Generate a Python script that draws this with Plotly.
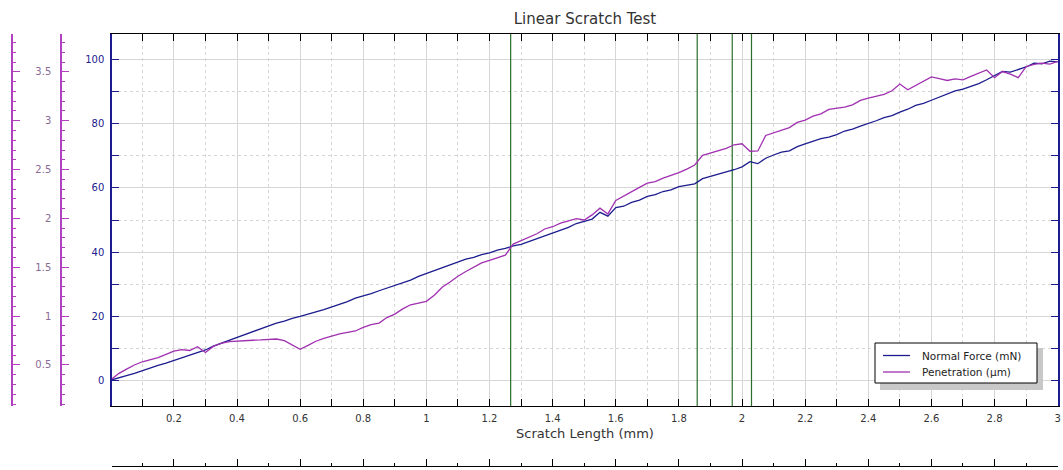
import plotly.graph_objects as go

# Scratch length sample positions (mm), one every 0.025 mm from 0 to 3
scratch_mm = [round(i * 0.025, 3) for i in range(121)]

normal_force_mN = [
    0.0, 0.6, 1.4, 2.1, 3.0, 3.7, 4.6, 5.3, 6.1, 7.0, 7.8, 8.7, 9.4, 10.6, 11.5, 12.4,
    13.4, 14.3, 15.1, 16.1, 16.9, 17.8, 18.4, 19.3, 19.9, 20.5, 21.3, 22.0, 22.8, 23.8,
    24.5, 25.6, 26.2, 27.0, 27.9, 28.7, 29.5, 30.5, 31.2, 32.4, 33.3, 34.2, 35.1, 36.1,
    36.8, 37.8, 38.3, 39.2, 39.7, 40.6, 41.1, 41.9, 42.4, 43.3, 44.1, 45.0, 46.0, 46.8,
    47.7, 48.9, 49.6, 50.3, 52.4, 51.2, 53.9, 54.3, 55.5, 56.2, 57.4, 57.9, 58.9, 59.4,
    60.4, 60.9, 61.3, 62.9, 63.6, 64.2, 65.0, 65.7, 66.6, 68.2, 67.6, 69.3, 70.3, 71.2,
    71.6, 72.9, 73.8, 74.6, 75.4, 75.9, 76.7, 77.8, 78.4, 79.3, 80.1, 81.0, 82.0, 82.6,
    83.7, 84.6, 85.8, 86.4, 87.4, 88.4, 89.2, 90.3, 90.9, 91.7, 92.6, 93.8, 95.2, 96.4,
    96.2, 96.9, 97.8, 99.0, 98.8, 99.6, 99.4,
]

penetration_um = [
    0.347, 0.412, 0.458, 0.500, 0.533, 0.553, 0.576, 0.608, 0.641, 0.658, 0.648, 0.687,
    0.628, 0.690, 0.720, 0.740, 0.746, 0.749, 0.753, 0.756, 0.759, 0.766, 0.749, 0.707,
    0.661, 0.700, 0.743, 0.772, 0.798, 0.818, 0.834, 0.848, 0.884, 0.913, 0.929, 0.985,
    1.021, 1.074, 1.116, 1.133, 1.152, 1.214, 1.296, 1.349, 1.408, 1.457, 1.503, 1.545,
    1.571, 1.598, 1.624, 1.738, 1.774, 1.814, 1.843, 1.892, 1.915, 1.951, 1.971, 1.997,
    1.984, 2.036, 2.105, 2.046, 2.184, 2.226, 2.275, 2.318, 2.361, 2.377, 2.413, 2.439,
    2.469, 2.505, 2.547, 2.646, 2.672, 2.695, 2.718, 2.754, 2.764, 2.688, 2.691, 2.849,
    2.878, 2.901, 2.930, 2.983, 3.006, 3.048, 3.071, 3.117, 3.127, 3.140, 3.163, 3.209,
    3.232, 3.248, 3.271, 3.307, 3.376, 3.317, 3.360, 3.405, 3.448, 3.432, 3.412, 3.428,
    3.419, 3.454, 3.484, 3.520, 3.441, 3.504, 3.477, 3.441, 3.553, 3.576, 3.589, 3.579,
    3.608,
]

event_positions_mm = [1.267, 1.858, 1.969, 2.030]

title_text = "Linear Scratch Test"
x_title = "Scratch Length (mm)"
force_name = "Normal Force (mN)"
pen_name = "Penetration (µm)"

W, H = 1063, 470
def px(x):
    return x / W
def py(y):
    return 1 - y / H

NAVY = "#1c1c8e"
MAG = "#a030b0"
AXMAG = "#b040c0"
GREEN = "#2a6e2a"
GRID = "#d6d6d6"
FONT = "DejaVu Sans, Verdana, sans-serif"

x_range = [0.004, 3.001]
y_range = [-8.1, 108.1]
pen_range = [0.080, 3.888]

fig = go.Figure()

for xv in event_positions_mm:
    fig.add_trace(go.Scatter(x=[xv, xv], y=y_range, mode="lines",
                             line=dict(color=GREEN, width=1.2),
                             showlegend=False, hoverinfo="skip"))

fig.add_trace(go.Scatter(x=scratch_mm, y=normal_force_mN, mode="lines", name=force_name,
                         line=dict(color=NAVY, width=1.3), showlegend=False))
fig.add_trace(go.Scatter(x=scratch_mm, y=penetration_um, mode="lines", name=pen_name,
                         line=dict(color=MAG, width=1.3), yaxis="y2", showlegend=False))
# carriers for the extra decorative axes
fig.add_trace(go.Scatter(x=scratch_mm[:2], y=penetration_um[:2], mode="lines", yaxis="y3",
                         line=dict(width=0), opacity=0, showlegend=False, hoverinfo="skip"))
fig.add_trace(go.Scatter(x=scratch_mm[:2], y=normal_force_mN[:2], mode="lines", xaxis="x2",
                         line=dict(width=0), opacity=0, showlegend=False, hoverinfo="skip"))

dom_x = [px(112), px(1058)]
dom_y = [py(406), py(34)]

# legend box drawn in page pixels
LX0, LX1, LY0, LY1 = 875, 1037, 343, 383
legend_rows = [(force_name, NAVY, 355.5), (pen_name, MAG, 372.0)]

shapes = [
    dict(type="rect", xref="paper", yref="paper",
         x0=px(LX0 + 5), x1=px(LX1 + 6), y0=py(LY1 + 7), y1=py(LY0 + 5),
         fillcolor="#c8c8c8", line=dict(width=0), layer="above"),
    dict(type="rect", xref="paper", yref="paper",
         x0=px(LX0), x1=px(LX1), y0=py(LY1), y1=py(LY0),
         fillcolor="white", line=dict(color="black", width=1), layer="above"),
]
annotations = []
for name, col, yy in legend_rows:
    shapes.append(dict(type="line", xref="paper", yref="paper",
                       x0=px(883), x1=px(910), y0=py(yy), y1=py(yy),
                       line=dict(color=col, width=1.3), layer="above"))
    annotations.append(dict(text=name, xref="paper", yref="paper", x=px(920), y=py(yy),
                            xanchor="left", yanchor="middle", showarrow=False,
                            font=dict(family=FONT, size=10.5, color="#222222")))

fig.update_layout(
    width=W, height=H,
    margin=dict(l=0, r=0, t=0, b=0, pad=0, autoexpand=False),
    paper_bgcolor="white", plot_bgcolor="white",
    showlegend=False,
    font=dict(family=FONT, size=10, color="#333333"),
    title=dict(text=title_text, x=px(585), xanchor="center", y=py(19), yanchor="middle",
               font=dict(family=FONT, size=15, color="#333333"), automargin=False),
    xaxis=dict(
        domain=dom_x, range=x_range, anchor="y", automargin=False,
        showline=True, linecolor="black", linewidth=1, mirror="allticks",
        ticks="inside", ticklen=7, tickcolor="black", dtick=0.2, tick0=0,
        showgrid=True, gridcolor=GRID, gridwidth=1, zeroline=False,
        tickfont=dict(size=10, color="#333333"), ticklabelstandoff=3,
        minor=dict(dtick=0.1, tick0=0, ticks="inside", ticklen=3, tickcolor="black",
                   showgrid=True, gridcolor=GRID, griddash="dot"),
        title=dict(text=x_title, font=dict(size=13, color="#333333"), standoff=5),
    ),
    xaxis2=dict(
        overlaying="x", anchor="free", position=py(466), side="bottom", range=x_range,
        automargin=False,
        showline=True, linecolor="black", linewidth=1,
        ticks="inside", ticklen=7, tickcolor="black", dtick=0.2, tick0=0,
        showticklabels=False, showgrid=False, zeroline=False,
        minor=dict(dtick=0.1, tick0=0, ticks="inside", ticklen=3, tickcolor="black",
                   showgrid=False),
    ),
    yaxis=dict(
        domain=dom_y, range=y_range, anchor="x", automargin=False,
        showline=True, linecolor=NAVY, linewidth=1.5, mirror="allticks",
        ticks="inside", ticklen=7, tickcolor=NAVY, dtick=20, tick0=0,
        showgrid=True, gridcolor=GRID, gridwidth=1, zeroline=False,
        tickfont=dict(size=10, color=NAVY), ticklabelstandoff=4,
        minor=dict(dtick=10, tick0=0, ticks="inside", ticklen=3, tickcolor=NAVY,
                   showgrid=True, gridcolor=GRID, griddash="dot"),
    ),
    yaxis2=dict(
        overlaying="y", anchor="free", position=px(61), side="left", range=pen_range,
        automargin=False,
        showline=True, linecolor=AXMAG, linewidth=1.5,
        ticks="inside", ticklen=7, tickcolor=AXMAG, dtick=0.5, tick0=0,
        showgrid=False, zeroline=False,
        tickfont=dict(size=10, color="#8a6a96"), ticklabelstandoff=7,
        minor=dict(dtick=0.1, tick0=0, ticks="inside", ticklen=3, tickcolor=AXMAG,
                   showgrid=False),
    ),
    yaxis3=dict(
        overlaying="y", anchor="free", position=px(12), side="left", range=pen_range,
        automargin=False,
        showline=True, linecolor=AXMAG, linewidth=1.5,
        ticks="inside", ticklen=7, tickcolor=AXMAG, dtick=0.5, tick0=0,
        showticklabels=False, showgrid=False, zeroline=False,
        minor=dict(dtick=0.1, tick0=0, ticks="inside", ticklen=3, tickcolor=AXMAG,
                   showgrid=False),
    ),
    shapes=shapes,
    annotations=annotations,
)

fig.write_html(
    "out.html",
    config={"displayModeBar": False},
    post_script="document.body.style.margin='0';document.body.style.overflow='hidden';",
)
